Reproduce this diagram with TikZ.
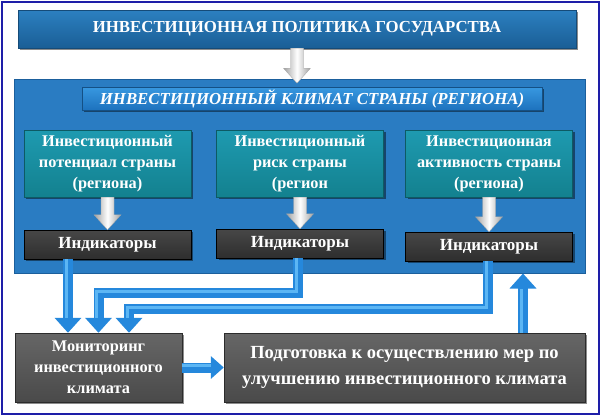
\documentclass[tikz,border=0pt]{standalone}
\usepackage{fontspec}
\setmainfont{Liberation Serif}
\usetikzlibrary{arrows.meta,shadows,calc}
\definecolor{navyframe}{HTML}{1E1EA8}
\definecolor{barTop}{HTML}{2C80C0}
\definecolor{barBot}{HTML}{1A5E96}
\definecolor{panelBlue}{HTML}{2A7CC2}
\definecolor{panelEdge}{HTML}{1B5F9C}
\definecolor{titleTop}{HTML}{3898E0}
\definecolor{titleBot}{HTML}{1D72BE}
\definecolor{tealTop}{HTML}{1E9AB0}
\definecolor{tealBot}{HTML}{13818F}
\definecolor{indTop}{HTML}{474747}
\definecolor{indBot}{HTML}{2E2E2E}
\definecolor{grayTop}{HTML}{666666}
\definecolor{grayBot}{HTML}{4A4A4A}
\definecolor{arrowBlue}{HTML}{2588DC}
\definecolor{arrowLight}{HTML}{5CB6F4}
\definecolor{arrowGray}{HTML}{A0A0A0}
\newcommand\grayarr[2]{\path[grayfill] let \p1=#1, \p2=#2 in
  (\x1-6.5pt,\y1) -- (\x1+6.5pt,\y1) -- (\x1+6.5pt,\y2+15pt) -- (\x1+13.5pt,\y2+15pt)
  -- (\x1,\y2) -- (\x1-13.5pt,\y2+15pt) -- (\x1-6.5pt,\y2+15pt) -- cycle;}
\begin{document}
\begin{tikzpicture}[x=1pt,y=-1pt,
  shadowed/.style={drop shadow={shadow xshift=2pt,shadow yshift=-2pt,opacity=.45,fill=black}},
  topbar/.style={shadowed,top color=barTop,bottom color=barBot,draw=barBot!80!black,line width=.4pt,
    minimum width=558,minimum height=38,text=white,inner sep=0pt,
    font=\bfseries\fontsize{16.8}{20}\selectfont},
  panel/.style={fill=panelBlue,draw=panelEdge,line width=1pt,minimum width=571,minimum height=194,inner sep=0pt},
  titlebar/.style={shadowed,top color=titleTop,bottom color=titleBot,draw=titleBot!70!black,line width=.4pt,
    minimum width=460,minimum height=23,text=white,inner sep=0pt,
    font=\bfseries\itshape\fontsize{16.8}{18}\selectfont},
  tealbox/.style={shadowed,top color=tealTop,bottom color=tealBot,draw=tealBot!70!black,line width=.4pt,
    minimum width=167,minimum height=67,text=white,inner sep=0pt,align=center,
    font=\bfseries\fontsize{16.3}{21}\selectfont},
  indbox/.style={shadowed,top color=indTop,bottom color=indBot,draw=black,line width=.4pt,
    minimum width=167,minimum height=29,text=white,inner sep=0pt,
    font=\bfseries\fontsize{17}{18}\selectfont},
  graybox/.style={shadowed,top color=grayTop,bottom color=grayBot,draw=grayBot!60!black,line width=.4pt,
    minimum height=69,text=white,inner sep=0pt,align=center},
  grayfill/.style={left color=arrowGray,right color=arrowGray,middle color=white,draw=gray!70,line width=.3pt},
  bluearr/.style={draw=arrowBlue,line width=10pt,line join=miter,
    -{Triangle[width=26pt,length=15pt]}},
  bluehl/.style={draw=arrowLight,line width=3pt,line join=miter}
]
\useasboundingbox (0,0) rectangle (600,415);
\fill[white] (0,0) rectangle (600,415);
\draw[navyframe,line width=2pt] (1.5,1.5) rectangle (598.5,413.5);

% nodes
\node[panel] (panel) at (299.5,176) {};
\node[topbar] (top) at (297,29) {ИНВЕСТИЦИОННАЯ ПОЛИТИКА ГОСУДАРСТВА};
\node[titlebar] (title) at (312,98.5) {ИНВЕСТИЦИОННЫЙ КЛИМАТ СТРАНЫ (РЕГИОНА)};

\node[tealbox] (t1) at (107.5,163.5) {Инвестиционный\\потенциал страны\\(региона)};
\node[tealbox] (t2) at (300,163.5) {Инвестиционный\\риск страны\\(регион};
\node[tealbox] (t3) at (489,163.5) {Инвестиционная\\активность страны\\(региона)};

\node[indbox] (i1) at (107.5,244.5) {Индикаторы};
\node[indbox] (i2) at (300,243.5) {Индикаторы};
\node[indbox] (i3) at (489,246.5) {Индикаторы};

\node[graybox,minimum width=167,font=\bfseries\fontsize{16.3}{21}\selectfont] (mon) at (98.5,367.5)
  {Мониторинг\\инвестиционного\\климата};
\node[graybox,minimum width=361,font=\bfseries\fontsize{18.5}{26}\selectfont] (prep) at (404.5,367.5)
  {Подготовка к осуществлению мер по\\улучшению инвестиционного климата};

% gray arrows
\grayarr{(top.south)}{($(top.south)+(0,35)$)}
\grayarr{(t1.south)}{(i1.north)}
\grayarr{(t2.south)}{(i2.north)}
\grayarr{(t3.south)}{(i3.north)}

% blue arrows
\coordinate (xL) at (68,0);
\coordinate (xM) at (298,0);
\coordinate (xR) at (488,0);
\coordinate (xU) at (523,0);
\coordinate (yM) at (0,293);
\coordinate (yR) at (0,309);

\draw[bluearr] (i1.south -| xL) -- (mon.north -| xL);
\draw[bluearr] (i2.south -| xM) -- (xM |- yM) -| (mon.north);
\draw[bluearr] (i3.south -| xR) -- (xR |- yR) -| ($(mon.north)+(30.5,0)$);
\draw[bluearr] (prep.north -| xU) -- (panel.south -| xU);
\draw[bluearr,-{Triangle[width=22pt,length=13pt]}] (mon.east) -- (prep.west);

\draw[bluehl] ($(i1.south -| xL)+(-2,0)$) -- ($(mon.north -| xL)+(-2,-15)$);
\draw[bluehl] ($(i2.south -| xM)+(-2,0)$) -- ($(xM |- yM)+(-2,-2)$) -- ($(mon.north |- yM)+(-2,-2)$) -- ($(mon.north)+(-2,-15)$);
\draw[bluehl] ($(i3.south -| xR)+(-2,0)$) -- ($(xR |- yR)+(-2,-2)$) -- ($(mon.north |- yR)+(28.5,-2)$) -- ($(mon.north)+(28.5,-15)$);
\draw[bluehl] ($(prep.north -| xU)+(-2,0)$) -- ($(panel.south -| xU)+(-2,15)$);
\draw[bluehl] ($(mon.east)+(0,-2)$) -- ($(prep.west)+(-13,-2)$);
\end{tikzpicture}
\end{document}
